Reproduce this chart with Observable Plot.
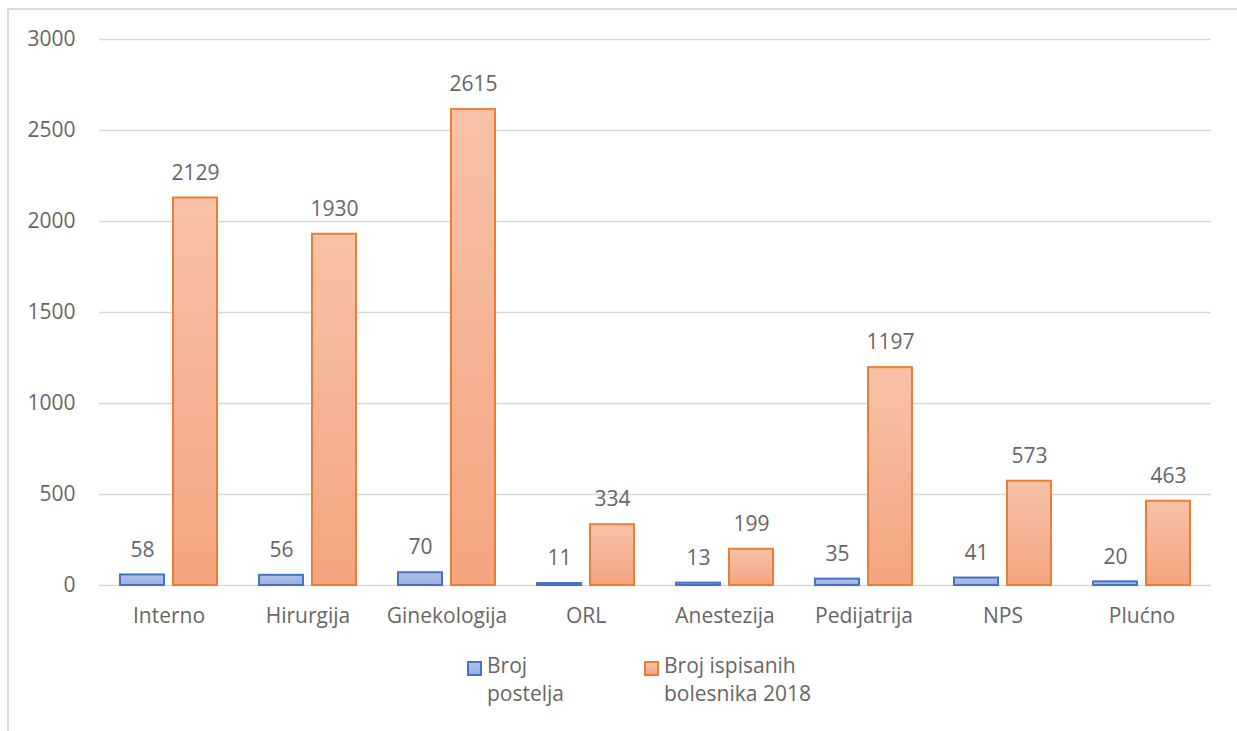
<!DOCTYPE html>
<html>
<head>
<meta charset="utf-8">
<script src="https://cdn.jsdelivr.net/npm/d3@7"></script>
<script src="https://cdn.jsdelivr.net/npm/@observablehq/plot@0.6"></script>
<style>
  html, body { margin: 0; padding: 0; background: #fff; overflow: hidden; width: 1237px; height: 731px; }
  #frame { position: absolute; left: 7px; top: 8px; width: 1300px; height: 800px; border: 2px solid #d9d9d9; box-sizing: border-box; }
  #chart { position: absolute; left: 0; top: 0; }
  .leg { position: absolute; font-family: "Open Sans", sans-serif; font-size: 21px; line-height: 28px; color: #666; }
  .sw { position: absolute; width: 11px; height: 11px; border: 2px solid; }
</style>
</head>
<body>
<div id="frame"></div>
<div id="chart"></div>
<div class="sw" style="left:467px; top:661px; border-color:#4472C4; background:linear-gradient(#b1c1e8,#9aaee0);"></div>
<div class="leg" style="left:487px; top:651px;">Broj<br>postelja</div>
<div class="sw" style="left:644px; top:661px; border-color:#ED7D31; background:linear-gradient(#f7c2a8,#f4a47f);"></div>
<div class="leg" style="left:664px; top:651px;">Broj ispisanih<br>bolesnika 2018</div>
<script>
const categories = ["Interno", "Hirurgija", "Ginekologija", "ORL", "Anestezija", "Pedijatrija", "NPS", "Plućno"];
const seriesNames = ["Broj postelja", "Broj ispisanih bolesnika 2018"];
const brojPostelja = [58, 56, 70, 11, 13, 35, 41, 20];
const brojIspisanih = [2129, 1930, 2615, 334, 199, 1197, 573, 463];
const yTicks = [0, 500, 1000, 1500, 2000, 2500, 3000];

const data = [];
categories.forEach((c, i) => {
  data.push({cat: c, series: seriesNames[0], value: brojPostelja[i]});
  data.push({cat: c, series: seriesNames[1], value: brojIspisanih[i]});
});

const blueFill = "#9aaee1";
const orangeFill = "#f5ab88";

const chart = Plot.plot({
  width: 1237,
  height: 645,
  marginTop: 39,
  marginBottom: 60,
  marginLeft: 97,
  marginRight: 24,
  style: {fontFamily: "Open Sans, sans-serif", fontSize: "21px", color: "#666", background: "transparent"},
  fx: {domain: categories, paddingInner: 0, paddingOuter: 0, label: null},
  x: {domain: seriesNames, paddingInner: 1/6, paddingOuter: 0.375, axis: null},
  y: {domain: [0, 3000], label: null},
  marks: [
    Plot.ruleY(yTicks, {stroke: "#d9d9d9", strokeWidth: 1.5}),
    Plot.axisY({ticks: yTicks, tickFormat: d => String(d), tickSize: 0, tickPadding: 24, label: null, fontSize: 21}),
    Plot.axisFx({anchor: "bottom", tickSize: 0, tickPadding: 23, label: null, fontSize: 21}),
    Plot.barY(data.filter(d => d.series === seriesNames[0]), {fx: "cat", x: "series", y: "value", fill: blueFill, stroke: "#4472C4", strokeWidth: 2}),
    Plot.barY(data.filter(d => d.series === seriesNames[1]), {fx: "cat", x: "series", y: "value", fill: orangeFill, stroke: "#ED7D31", strokeWidth: 2}),
    Plot.text(data, {fx: "cat", x: "series", y: "value", text: d => String(d.value), dy: -25, fill: "#666", fontSize: 21})
  ]
});

const svg = d3.select(chart);
const defs = svg.insert("defs", ":first-child");
const gb = defs.append("linearGradient").attr("id", "gradBlue").attr("x1", 0).attr("y1", 0).attr("x2", 0).attr("y2", 1);
gb.append("stop").attr("offset", "0%").attr("stop-color", "#b1c1e8");
gb.append("stop").attr("offset", "100%").attr("stop-color", "#9aaee0");
const go = defs.append("linearGradient").attr("id", "gradOrange").attr("x1", 0).attr("y1", 0).attr("x2", 0).attr("y2", 1);
go.append("stop").attr("offset", "0%").attr("stop-color", "#f7c2a8");
go.append("stop").attr("offset", "100%").attr("stop-color", "#f4a47f");
svg.selectAll("[fill]").each(function() {
  const f = this.getAttribute("fill");
  if (f === blueFill) this.setAttribute("fill", "url(#gradBlue)");
  if (f === orangeFill) this.setAttribute("fill", "url(#gradOrange)");
});

document.getElementById("chart").appendChild(chart);
</script>
</body>
</html>
